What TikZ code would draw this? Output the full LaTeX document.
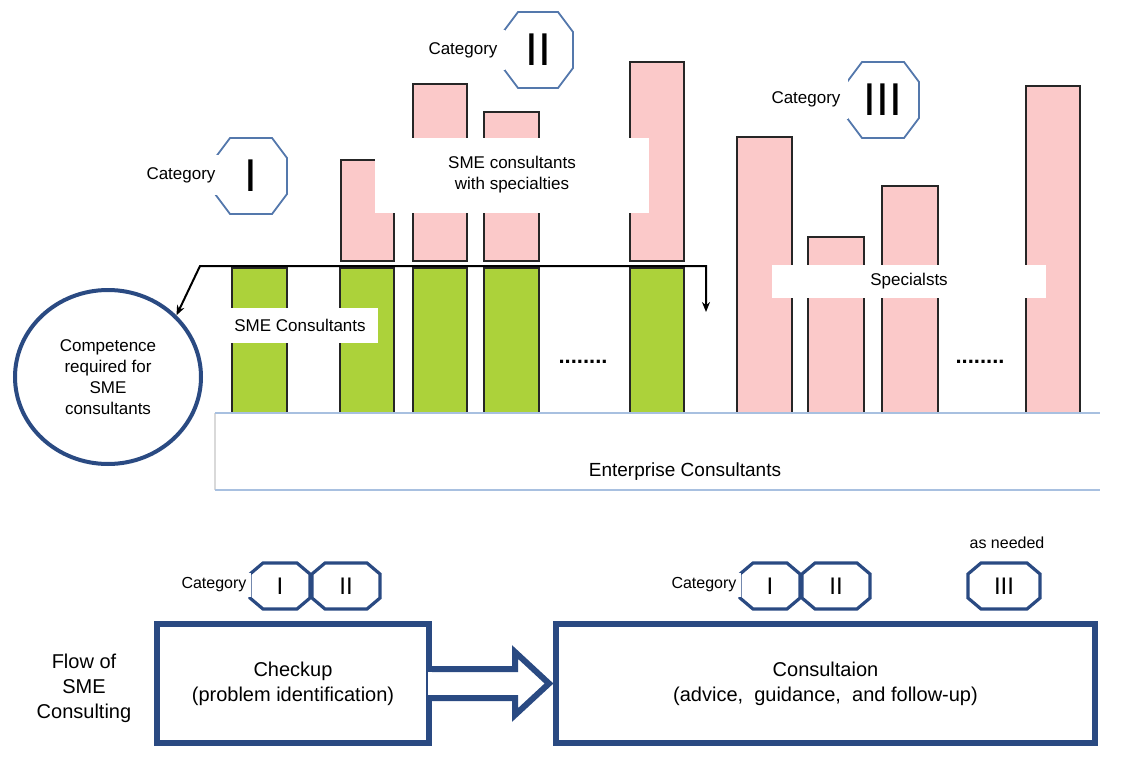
\documentclass[tikz,border=0pt]{standalone}
\usepackage{fontspec}
\setmainfont{Liberation Sans}
\usetikzlibrary{arrows.meta,shapes.geometric,calc}
\definecolor{pinkbar}{RGB}{251,201,201}
\definecolor{greenbar}{RGB}{172,210,58}
\definecolor{octblue}{RGB}{84,120,172}
\definecolor{navy}{RGB}{42,74,130}
\definecolor{baseblue}{RGB}{168,192,224}
\tikzset{
  lbl/.style={font=\fontsize{8.5}{10.5}\selectfont,align=center,inner sep=0pt},
  wlbl/.style={lbl,fill=white},
  cat/.style={lbl,fill=white,minimum height=20pt,inner xsep=4pt},
  scat/.style={font=\fontsize{8}{9}\selectfont,fill=white,inner xsep=2.5pt,inner ysep=0pt,minimum height=12pt},
  bignum/.style={font=\fontsize{23}{23}\selectfont,inner sep=0pt},
  smallnum/.style={font=\fontsize{12}{12}\selectfont,inner sep=0pt},
  octline/.style={draw=octblue,line width=0.9pt},
  soctline/.style={draw=navy,line width=1.6pt},
  pbar/.style={fill=pinkbar,draw=black!85,line width=0.8pt},
  gbar/.style={fill=greenbar,draw=black!85,line width=0.8pt},
  dotrow/.style={lbl,font=\fontsize{11}{11}\bfseries\selectfont},
  flowtxt/.style={font=\fontsize{10}{12.5}\selectfont,align=center},
  flowbox/.style={flowtxt,draw=navy,line width=3pt,inner sep=0pt},
  blockar/.style={draw=navy,line width=3pt,line join=miter},
  dblar/.style={arrows={Stealth[length=5pt,width=4pt]-Stealth[length=5pt,width=4pt]},line width=1pt},
}
% node, half width, half height, chamfer x, chamfer y
\newcommand\octa[6][octline]{%
  \draw[#1,shift={(#2)}] (-#3+#5,-#4) -- (#3-#5,-#4) -- (#3,-#4+#6) -- (#3,#4-#6)
    -- (#3-#5,#4) -- (-#3+#5,#4) -- (-#3,#4-#6) -- (-#3,-#4+#6) -- cycle;}

\begin{document}
\begin{tikzpicture}[x=0.5pt,y=-0.5pt]
  \useasboundingbox (0,0) rectangle (1125,771);

  \draw[black!15,line width=0.6pt] (215,413) -- (215,490);
  \draw[baseblue,line width=0.8pt] (215,490) -- (1100,490);
  \node[lbl,font=\fontsize{9.5}{11}\selectfont] (ent) at (685,472) {Enterprise Consultants};

  \foreach \xa/\xb/\yt in {341/394/160,413/467/84,484/539/112,630/684/62}
    \draw[pbar] (\xa,261) rectangle (\xb,\yt);
  \foreach \xa/\xb in {232/287,340/394,413/467,484/539,630/684}
    \draw[gbar] (\xa,268) rectangle (\xb,413);
  \foreach \xa/\xb/\yt in {737/792/137,808/864/237,882/938/186,1026/1080/86}
    \draw[pbar] (\xa,413) rectangle (\xb,\yt);
  \draw[baseblue,line width=0.8pt] (215,413) -- (1100,413);

  \node[wlbl,minimum width=137pt,minimum height=37.5pt] (spec) at (512,175) {SME consultants\\with specialties};
  \node[wlbl,minimum width=77.5pt,minimum height=17.5pt] (smec) at (300,325) {SME Consultants};
  \node[wlbl,minimum width=137pt,minimum height=16.5pt] (spl) at (909,281) {Specialsts};
  \node[dotrow] (dots1) at (583,362) {........};
  \node[dotrow] (dots2) at (980,362) {........};

  \node[bignum] (c1) at (251,176) {I};
  \octa{c1}{36}{38}{15}{20}
  \node[cat] (c1l) at (181,175) {Category};
  \node[bignum] (c2) at (538,50) {II};
  \octa{c2}{35}{38}{15}{20}
  \node[cat] (c2l) at (463,50) {Category};
  \node[bignum] (c3) at (883,100) {III};
  \octa{c3}{36}{38}{15}{20}
  \node[cat] (c3l) at (806,99) {Category};

  \node[lbl,ellipse,draw=navy,line width=2pt,minimum width=93pt,minimum height=87pt] (comp) at (108,377)
    {Competence\\required for\\SME\\consultants};
  \coordinate (al) at (200,266);
  \coordinate (ar) at (706,266);
  \coordinate (ad) at (706,312);
  \draw[dblar] (comp.42) -- (al) -- (ar) -- (ad);

  \node[flowtxt] (flow) at (84,688) {Flow of\\SME\\Consulting};
  \node[flowbox,minimum width=136pt,minimum height=59.5pt] (chk) at (293,683.5) {Checkup\\(problem identification)};
  \node[flowbox,minimum width=269.5pt,minimum height=59.5pt] (cons) at (825.5,683.5) {Consultaion\\(advice,\ \ guidance,\ \ and follow-up)};
  \fill[white] ($(chk.east)+(-4,-11.5)$) rectangle ($(chk.east)+(4,11.5)$);
  \draw[blockar] ($(chk.east)+(0,-14.5)$) -- ++(83,0) -- ++(0,-17) -- ($(cons.west)+(-4,0)$)
    -- ($(chk.east)+(83,31.5)$) -- ++(0,-17) -- ($(chk.east)+(0,14.5)$);

  \node[smallnum] (k1) at (280,586) {I};
  \octa[soctline]{k1}{30}{23}{13}{11}
  \node[smallnum] (k2) at (346,586) {II};
  \octa[soctline]{k2}{34}{23}{13}{11}
  \node[scat] (k0) at (214,585) {Category};
  \node[smallnum] (m1) at (770,586) {I};
  \octa[soctline]{m1}{30}{23}{13}{11}
  \node[smallnum] (m2) at (836,586) {II};
  \octa[soctline]{m2}{34}{23}{13}{11}
  \node[scat] (m0) at (704,585) {Category};
  \node[smallnum] (m3) at (1004,586) {III};
  \octa[soctline]{m3}{36}{23}{13}{11}
  \node[lbl,font=\fontsize{8}{9}\selectfont] (need) at (1007,543) {as needed};
\end{tikzpicture}
\end{document}
